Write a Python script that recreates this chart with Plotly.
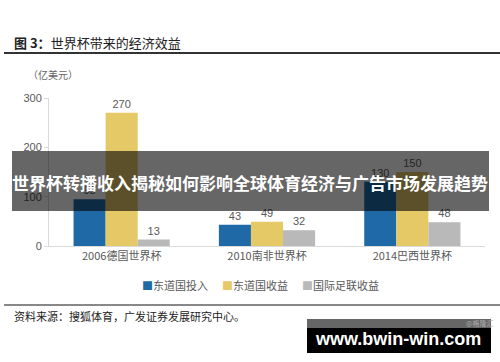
import plotly.graph_objects as go

categories = ["2006德国世界杯", "2010南非世界杯", "2014巴西世界杯"]
host_input = [95, 43, 130]
host_revenue = [270, 49, 150]
fifa_revenue = [13, 32, 48]
series_names = ["东道国投入", "东道国收益", "国际足联收益"]
colors = ["#1F69A6", "#E4C966", "#B9B9B9"]
y_ticks = [0, 100, 200, 300]

W, H = 500, 362
L, R, T, B = 49, 485, 98, 246  # plot area in pixels


def px(x):
    return (x - L) / (R - L)


def py(y):
    return (B - y) / (B - T)


fig = go.Figure()
for name, vals, col in zip(series_names, [host_input, host_revenue, fifa_revenue], colors):
    fig.add_trace(go.Bar(
        x=categories, y=vals, name=name, marker=dict(color=col, line=dict(width=0)),
        text=[str(v) for v in vals], textposition="outside",
        textfont=dict(size=11, color="#595959", family="Liberation Sans"),
        cliponaxis=False,
    ))

fig.update_layout(
    width=W, height=H,
    margin=dict(l=L, r=W - R, t=T, b=H - B, pad=0),
    paper_bgcolor="white", plot_bgcolor="white",
    barmode="group", bargap=0.338, bargroupgap=0,
    font=dict(family="Noto Sans CJK SC", size=11, color="#595959"),
    showlegend=False,
    xaxis=dict(showline=True, linecolor="#D9D9D9", linewidth=1, ticks="", showgrid=False,
               tickfont=dict(size=11, color="#595959")),
    yaxis=dict(range=[0, 300], tickvals=y_ticks, showline=True, linecolor="#D9D9D9", linewidth=1,
               ticks="outside", ticklen=4, tickcolor="#D9D9D9", showgrid=False, zeroline=False,
               tickfont=dict(size=11, color="#595959", family="Liberation Sans")),
)

shapes = []
ann = []
# legend (marker square + label)
legend_x = [140, 220, 300]
for name, col, lx in zip(series_names, colors, legend_x):
    ann.append(dict(text=f"<span style='color:{col}'>■</span>{name}", x=px(lx), y=py(285),
                    xref="paper", yref="paper", xanchor="left", yanchor="middle", showarrow=False,
                    font=dict(size=11, color="#595959")))
# title + rule
ann.append(dict(text="<b>图 3：</b>世界杯带来的经济效益", x=px(12), y=py(42), xref="paper", yref="paper",
                xanchor="left", yanchor="middle", showarrow=False,
                font=dict(size=13, color="#222222", family="Noto Sans CJK SC")))
shapes.append(dict(type="line", xref="paper", yref="paper", x0=px(4), x1=px(500), y0=py(53), y1=py(53),
                   line=dict(color="#333333", width=2)))
ann.append(dict(text="（亿美元）", x=px(26), y=py(74), xref="paper", yref="paper",
                xanchor="left", yanchor="middle", showarrow=False,
                font=dict(size=10, color="#666666")))
# bottom rule + source
shapes.append(dict(type="line", xref="paper", yref="paper", x0=px(4), x1=px(500), y0=py(305), y1=py(305),
                   line=dict(color="#888888", width=2)))
ann.append(dict(text="资料来源：搜狐体育，广发证券发展研究中心。", x=px(12), y=py(316), xref="paper", yref="paper",
                xanchor="left", yanchor="middle", showarrow=False,
                font=dict(size=11, color="#222222")))
# overlay banner
shapes.append(dict(type="rect", xref="paper", yref="paper", x0=px(12), x1=px(489), y0=py(151), y1=py(211),
                   fillcolor="rgba(0,0,0,0.6)", line=dict(width=0), layer="above"))
ann.append(dict(text="<b>世界杯转播收入揭秘如何影响全球体育经济与广告市场发展趋势</b>", x=px(250), y=py(182),
                xref="paper", yref="paper", xanchor="center", yanchor="middle", showarrow=False,
                font=dict(size=17, color="white", family="Noto Sans CJK SC")))
# watermark box
shapes.append(dict(type="rect", xref="paper", yref="paper", x0=px(307), x1=px(491), y0=py(319), y1=py(328),
                   fillcolor="#666666", line=dict(width=0), layer="above"))
shapes.append(dict(type="rect", xref="paper", yref="paper", x0=px(307), x1=px(491), y0=py(328), y1=py(353),
                   fillcolor="black", line=dict(width=0), layer="above"))
ann.append(dict(text="<b>www.bwin-win.com</b>", x=px(398), y=py(339), xref="paper", yref="paper",
                xanchor="center", yanchor="middle", showarrow=False,
                font=dict(size=18, color="white", family="Liberation Sans")))
ann.append(dict(text="@格隆汇", x=px(496), y=py(323), xref="paper", yref="paper",
                xanchor="right", yanchor="middle", showarrow=False,
                font=dict(size=7, color="#AAAAAA")))

fig.update_layout(shapes=shapes, annotations=ann)
fig.write_html("out.html", config={"displayModeBar": False},
               post_script="document.body.style.margin='0';document.body.style.overflow='hidden';")
